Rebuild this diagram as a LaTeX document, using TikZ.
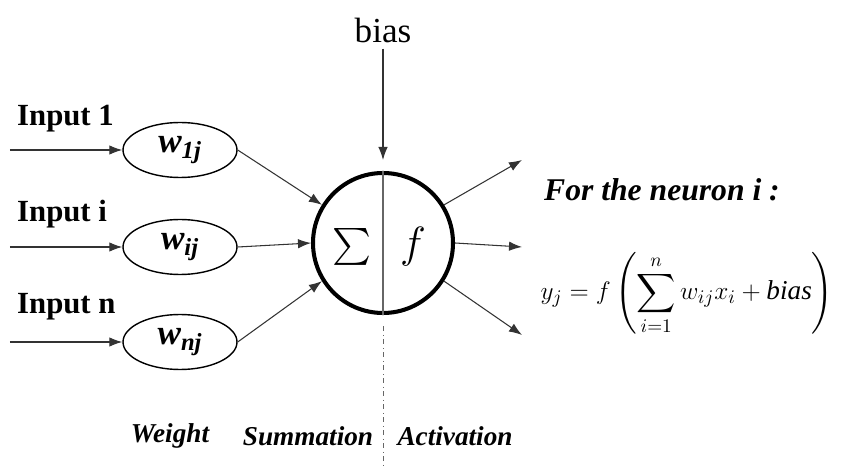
\documentclass[tikz,border=0pt]{standalone}
\usepackage{amsmath,amssymb}
\usepackage{fontspec}
\setmainfont{Liberation Serif}
\usepackage{tikz}
\usetikzlibrary{arrows.meta,positioning,calc,shapes.geometric}

\begin{document}
\begin{tikzpicture}[
  weight/.style={ellipse, draw, thick, minimum width=2.28cm, minimum height=1.1cm, inner sep=0pt,
    font=\fontsize{20}{22}\selectfont\bfseries\itshape},
  neuron/.style={circle, draw, line width=2.3pt, minimum size=2.8cm, inner sep=0pt},
  inlabel/.style={anchor=west, font=\fontsize{17.5}{20}\selectfont\bfseries},
  stage/.style={font=\fontsize{15.5}{18}\selectfont\bfseries\itshape},
  arrow/.style={-{Latex[length=2.6mm, width=1.9mm]}, draw=black!80, semithick}
]
\useasboundingbox (0,0) rectangle (16.94,9.32);

% neuron body
\node[neuron] (n) at (7.66,4.46) {};
\draw[black!60, semithick] (n.north) -- (n.south);
\node at (7.04,4.38) {\fontsize{21}{23}\selectfont$\sum$};
\node at (8.26,4.38) {\fontsize{26}{28}\selectfont$f$};
\draw[black!60, dash dot, thin] ($(n.south)+(0,-0.22)$) -- (7.66,0);

% bias
\node (bias) at (7.66,8.72) {\fontsize{20}{22}\selectfont bias};
\draw[arrow, shorten >=2.2mm] (bias.south) -- (n.north);

% weights and inputs
\node[weight] (w1) at (3.6,6.32) {w\textsubscript{1j}};
\node[weight] (wi) at (3.6,4.38) {w\textsubscript{ij}};
\node[weight] (wn) at (3.6,2.48) {w\textsubscript{nj}};
\coordinate (x1) at (0.2,6.32);
\coordinate (xi) at (0.2,4.38);
\coordinate (xn) at (0.2,2.48);
\node[inlabel] (l1) at (0.22,6.94) {Input 1};
\node[inlabel] (li) at (0.22,5.04) {Input i};
\node[inlabel] (ln) at (0.22,3.18) {Input n};
\draw[arrow] (x1) -- (w1);
\draw[arrow] (xi) -- (wi);
\draw[arrow] (xn) -- (wn);
\draw[arrow] (w1.east) -- (n.148);
\draw[arrow] (wi.east) -- (n.west);
\draw[arrow] (wn.east) -- (n.212);

% outputs
\coordinate (y1) at (10.44,6.12);
\coordinate (y2) at (10.44,4.38);
\coordinate (y3) at (10.44,2.62);
\draw[arrow] (n.32) -- (y1);
\draw[arrow] (n.east) -- (y2);
\draw[arrow] (n.-32) -- (y3);

% equation
\node (title) at (13.24,5.52) {\fontsize{18}{20}\selectfont\bfseries\itshape For the neuron i :};
\node (eq) at (13.74,3.44) {\fontsize{15.5}{18}\selectfont
  $\displaystyle y_j = f\left(\sum_{i=1}^{n} w_{ij}x_i + \mathit{bias}\right)$};

% stage labels
\node[stage] (sw) at (3.4,0.6) {Weight};
\node[stage] (ss) at (6.16,0.6) {Summation};
\node[stage] (sa) at (9.1,0.6) {Activation};
\end{tikzpicture}
\end{document}
